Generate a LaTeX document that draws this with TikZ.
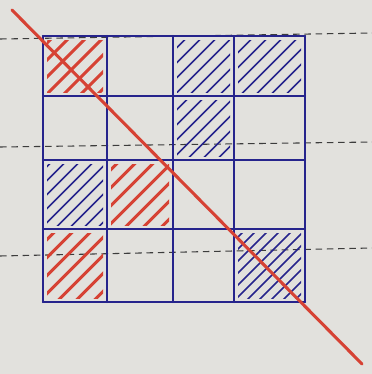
\documentclass[tikz,border=0pt]{standalone}
\usepackage{tikz}
\usetikzlibrary{calc}
\definecolor{paper}{RGB}{226,225,221}
\definecolor{ink}{RGB}{38,36,140}
\definecolor{pen}{RGB}{214,66,52}
\definecolor{rule}{RGB}{60,60,60}

\begin{document}
\begin{tikzpicture}[
  x=0.0265cm, y=-0.0265cm,
  gridline/.style={ink, line width=1.7pt, line cap=round},
  hatchline/.style={line width=1.4pt, line cap=round},
  notebook/.style={rule, line width=0.8pt, dash pattern=on 5pt off 3.5pt},
  cutline/.style={pen, line width=2.3pt, line cap=round},
]

% Paper
\fill[paper] (0,0) rectangle (372,374);
\useasboundingbox (0,0) rectangle (372,374);

% Notebook rules
\draw[notebook] (0,39) -- (372,33);
\draw[notebook] (0,147) -- (372,142);
\draw[notebook] (0,256) -- (372,248);

% Hatched cells
\foreach \xa/\ya/\xb/\yb/\hc/\s/\w in {
  43/36/107/96/pen/17/2.2, 107/160/173/229/pen/18/2.2, 43/229/107/302/pen/18/2.2,
  173/36/234/96/ink/15/1.3, 234/36/305/96/ink/15/1.3, 173/96/234/160/ink/15/1.3,
  43/160/107/229/ink/14/1.3, 234/229/305/302/ink/12/1.3}
{
  \begin{scope}
    \clip (\xa+4,\ya+4) rectangle (\xb-4,\yb-4);
    \foreach \k in {-6,...,6}
      \draw[hatchline, \hc, line width=\w pt] ({(\xa+\xb)/2+\k*\s-50},{(\ya+\yb)/2+50}) -- ++(100,-100);
  \end{scope}
}

% Grid
\foreach \gx in {43,107,173,234,305}
  \draw[gridline] (\gx,36) -- (\gx,302);
\foreach \gy in {36,96,160,229,302}
  \draw[gridline] (43,\gy) -- (305,\gy);

% Diagonal
\coordinate (start) at (12,10);
\coordinate (end) at (362,364);
\draw[cutline] (start) -- (end);

\end{tikzpicture}
\end{document}
